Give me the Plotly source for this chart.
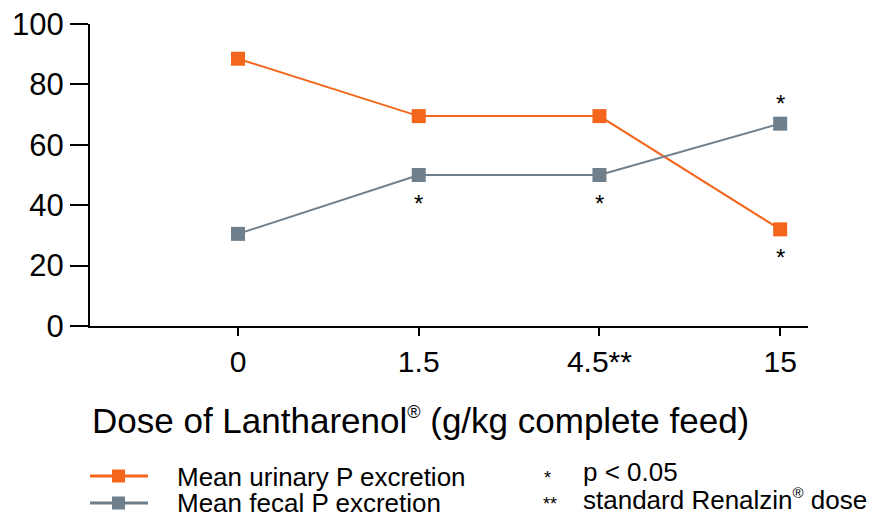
import plotly.graph_objects as go

doses = ["0", "1.5", "4.5**", "15"]
urinary = [88.5, 69.5, 69.5, 32]
fecal = [30.5, 50, 50, 67]
urinary_sig = [False, False, False, True]
fecal_sig = [False, True, True, True]
fecal_sig_above = [False, False, False, True]
series_names = ["Mean urinary P excretion", "Mean fecal P excretion"]

ORANGE = "#F4661B"
GRAY = "#6F7F8C"
FONT = "Liberation Sans, Arial, sans-serif"

W, H = 876, 516
ML, MR, MT, MB = 90, 68, 24, 0
PW, PH = W - ML - MR, H - MT - MB


def px_x(p):
    return (p - ML) / PW


def px_y(p):
    return (H - MB - p) / PH


idx = list(range(len(doses)))

fig = go.Figure()
fig.add_trace(go.Scatter(x=idx, y=urinary, mode="lines+markers", name=series_names[0],
                         line=dict(color=ORANGE, width=2),
                         marker=dict(symbol="square", size=14, color=ORANGE), showlegend=False))
fig.add_trace(go.Scatter(x=idx, y=fecal, mode="lines+markers", name=series_names[1],
                         line=dict(color=GRAY, width=2),
                         marker=dict(symbol="square", size=14, color=GRAY), showlegend=False))

anns = []
for i, (v, s) in enumerate(zip(urinary, urinary_sig)):
    if s:
        anns.append(dict(x=i, y=v, text="*", showarrow=False, yshift=-28,
                         font=dict(size=24, color="black", family=FONT)))
for i, (v, s, up) in enumerate(zip(fecal, fecal_sig, fecal_sig_above)):
    if s:
        anns.append(dict(x=i, y=v, text="*", showarrow=False, yshift=20 if up else -28,
                         font=dict(size=24, color="black", family=FONT)))

anns.append(dict(xref="paper", yref="paper", x=px_x(90), y=px_y(420), xanchor="left", yanchor="middle",
                 text="Dose of Lantharenol<sup><span style='font-size:18px'>®</span></sup> (g/kg complete feed)",
                 showarrow=False, font=dict(size=35, color="black", family=FONT)))

# Legend (manual, two rows)
shapes = []
legend_rows = [(ORANGE, 476, 477), (GRAY, 503, 503)]
for (col, ly, ty), name in zip(legend_rows, series_names):
    shapes.append(dict(type="line", xref="paper", yref="paper", x0=px_x(90), x1=px_x(148),
                       y0=px_y(ly), y1=px_y(ly), line=dict(color=col, width=3)))
    shapes.append(dict(type="rect", xref="paper", yref="paper", x0=px_x(112), x1=px_x(125),
                       y0=px_y(ly + 6.5), y1=px_y(ly - 6.5), line=dict(width=0), fillcolor=col))
    anns.append(dict(xref="paper", yref="paper", x=px_x(175), y=px_y(ty), xanchor="left", yanchor="middle",
                     text=name, showarrow=False, font=dict(size=26, color="black", family=FONT)))

anns.append(dict(xref="paper", yref="paper", x=px_x(547), y=px_y(473), xanchor="center", yanchor="middle",
                 text="*", showarrow=False, yshift=-5,
                 font=dict(size=18, color="black", family=FONT)))
anns.append(dict(xref="paper", yref="paper", x=px_x(550), y=px_y(499), xanchor="center", yanchor="middle",
                 text="**", showarrow=False, yshift=-5,
                 font=dict(size=18, color="black", family=FONT)))
anns.append(dict(xref="paper", yref="paper", x=px_x(581), y=px_y(472), xanchor="left", yanchor="middle",
                 text="p &lt; 0.05", showarrow=False,
                 font=dict(size=26, color="black", family=FONT)))
anns.append(dict(xref="paper", yref="paper", x=px_x(581), y=px_y(499), xanchor="left", yanchor="middle",
                 text="standard Renalzin<sup><span style='font-size:15px'>®</span></sup> dose", showarrow=False,
                 font=dict(size=26, color="black", family=FONT)))

fig.update_layout(
    width=W, height=H,
    margin=dict(l=ML, r=MR, t=MT, b=MB),
    paper_bgcolor="white", plot_bgcolor="white",
    font=dict(family=FONT, color="black"),
    showlegend=False,
    annotations=anns,
    shapes=shapes,
)
fig.update_xaxes(range=[-0.819, 3.154], tickvals=idx, ticktext=doses, showline=True,
                 linecolor="black", linewidth=2, ticks="outside", ticklen=8, tickwidth=1.5,
                 tickcolor="black", showgrid=False, zeroline=False, automargin=False,
                 tickfont=dict(size=30, family=FONT, color="black"))
fig.update_yaxes(range=[0, 100], tickvals=[0, 20, 40, 60, 80, 100], showline=True,
                 domain=[px_y(326), 1],
                 linecolor="black", linewidth=2, ticks="outside", ticklen=18, tickwidth=2,
                 tickcolor="black", showgrid=False, zeroline=False, automargin=False,
                 tickfont=dict(size=31, family=FONT, color="black"))

fig.write_html("out.html", config={"displayModeBar": False},
               post_script="document.body.style.margin='0';")
